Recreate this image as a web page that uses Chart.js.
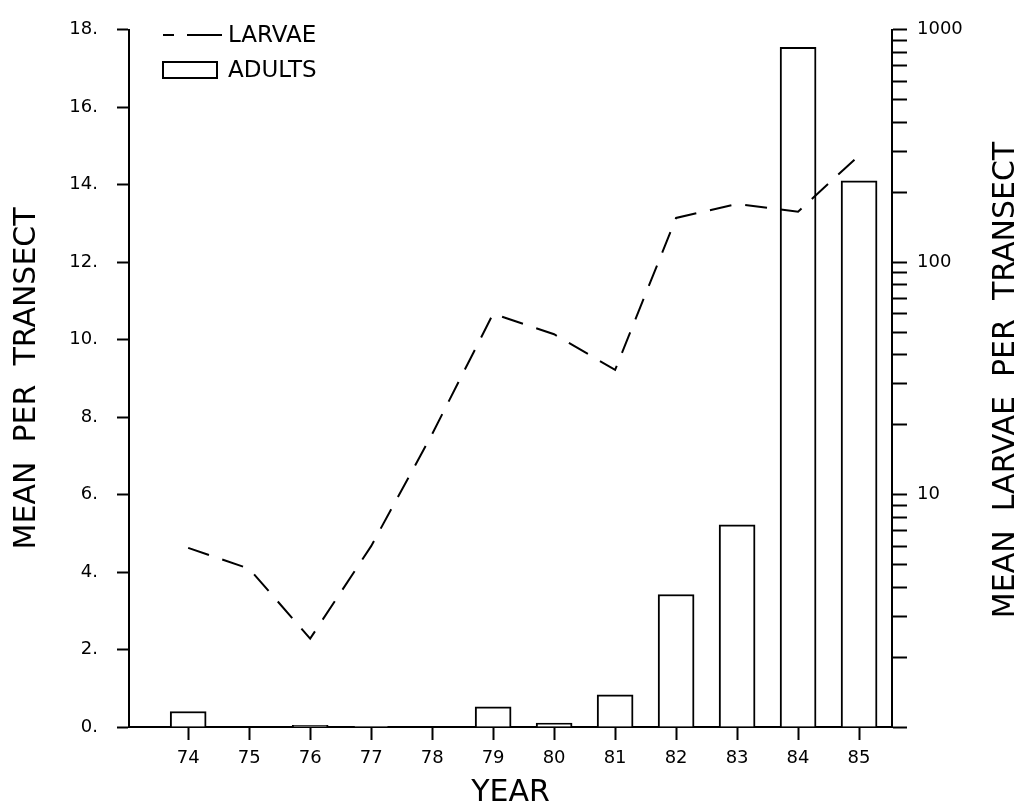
<!DOCTYPE html>
<html>
<head>
<meta charset="utf-8">
<script src="https://cdn.jsdelivr.net/npm/chart.js@4.4.1/dist/chart.umd.min.js"></script>
<style>
html, body { margin: 0; padding: 0; background: #fff; }
#wrap { width: 1020px; height: 809px; }
</style>
</head>
<body>
<div id="wrap"><canvas id="chart" width="1020" height="809"></canvas></div>
<script>
// data
const years = [74, 75, 76, 77, 78, 79, 80, 81, 82, 83, 84, 85];
const adults = [0.4, 0, 0.04, 0.01, 0, 0.52, 0.1, 0.83, 3.42, 5.22, 17.55, 14.1];
const larvae = [5.9, 4.8, 2.4, 6.0, 18.2, 60, 49, 34.4, 155, 178, 165, 288];

const leftTicks = [0, 2, 4, 6, 8, 10, 12, 14, 16, 18];
const rightTicks = [1, 2, 3, 4, 5, 6, 7, 8, 9, 10, 20, 30, 40, 50, 60, 70, 80, 90,
                    100, 200, 300, 400, 500, 600, 700, 800, 900, 1000];
const rightLabels = [10, 100, 1000];

Chart.defaults.font.family = '"DejaVu Sans", sans-serif';
Chart.defaults.color = '#000';

// legend + right hand title (drawn by hand, Chart.js rotates right titles the other way)
const extraText = {
    id: 'extraText',
    afterDraw(chart) {
        const ctx = chart.ctx;
        ctx.save();
        ctx.strokeStyle = '#000';
        ctx.fillStyle = '#000';
        ctx.lineWidth = 2;

        ctx.setLineDash([35, 13]);
        ctx.beginPath();
        ctx.moveTo(222, 35);
        ctx.lineTo(163, 35);
        ctx.stroke();
        ctx.setLineDash([]);
        ctx.strokeRect(163, 62, 54, 16);

        ctx.font = '23px "DejaVu Sans"';
        ctx.textAlign = 'left';
        ctx.textBaseline = 'middle';
        ctx.fillText('LARVAE', 228, 36);
        ctx.fillText('ADULTS', 228, 71);

        ctx.translate(1006, 380);
        ctx.rotate(-Math.PI / 2);
        ctx.font = '30px "DejaVu Sans"';
        ctx.textAlign = 'center';
        ctx.fillText('MEAN  LARVAE  PER  TRANSECT', 0, 0);
        ctx.restore();
    }
};

const ctx = document.getElementById('chart').getContext('2d');
const chart = new Chart(ctx, {
    data: {
        datasets: [{
            type: 'line',
            label: 'LARVAE',
            data: years.map((y, i) => ({ x: y, y: larvae[i] })),
            yAxisID: 'y2',
            borderColor: '#000',
            borderWidth: 2,
            borderDash: [22, 14],
            pointRadius: 0,
            tension: 0,
            fill: false,
            order: 0
        }, {
            type: 'bar',
            label: 'ADULTS',
            data: years.map((y, i) => ({ x: y, y: adults[i] })),
            yAxisID: 'y',
            backgroundColor: '#fff',
            borderColor: '#000',
            borderWidth: 2,
            barThickness: 36,
            order: 1
        }]
    },
    options: {
        responsive: false,
        animation: false,
        layout: { padding: { top: 22, left: 0, right: 0, bottom: 0 } },
        plugins: {
            legend: { display: false },
            tooltip: { enabled: false }
        },
        scales: {
            x: {
                type: 'linear',
                position: 'bottom',
                offset: false,
                min: 73.03,
                max: 85.54,
                afterBuildTicks: s => { s.ticks = years.map(v => ({ value: v })); },
                afterFit: s => { s.height = 82; },
                grid: { offset: false, drawOnChartArea: false, drawTicks: true, tickLength: 13, color: '#000', tickWidth: 2 },
                border: { color: '#000', width: 2 },
                ticks: { font: { size: 18 }, padding: 8, autoSkip: false, maxRotation: 0 },
                title: {
                    display: true,
                    text: 'YEAR',
                    font: { size: 30, lineHeight: 1 },
                    padding: { top: 0, bottom: 1 }
                }
            },
            y: {
                type: 'linear',
                position: 'left',
                min: 0,
                max: 18,
                afterBuildTicks: s => { s.ticks = leftTicks.map(v => ({ value: v })); },
                afterFit: s => { s.width = 129; },
                grid: { drawOnChartArea: false, drawTicks: true, tickLength: 12, color: '#000', tickWidth: 2 },
                border: { color: '#000', width: 2 },
                ticks: {
                    font: { size: 18 },
                    padding: 19,
                    autoSkip: false,
                    callback: v => v + '.'
                },
                title: {
                    display: true,
                    text: 'MEAN  PER  TRANSECT',
                    font: { size: 30 },
                    padding: { top: 9, bottom: 0 }
                }
            },
            y2: {
                type: 'logarithmic',
                position: 'right',
                min: 1,
                max: 1000,
                afterBuildTicks: s => { s.ticks = rightTicks.map(v => ({ value: v })); },
                afterFit: s => { s.width = 128; },
                grid: { drawOnChartArea: false, drawTicks: true, tickLength: 15, color: '#000', tickWidth: 2 },
                border: { color: '#000', width: 2 },
                ticks: {
                    font: { size: 18 },
                    padding: 10,
                    autoSkip: false,
                    callback: v => rightLabels.includes(v) ? String(v) : ''
                }
            }
        }
    },
    plugins: [extraText]
});
</script>
</body>
</html>
